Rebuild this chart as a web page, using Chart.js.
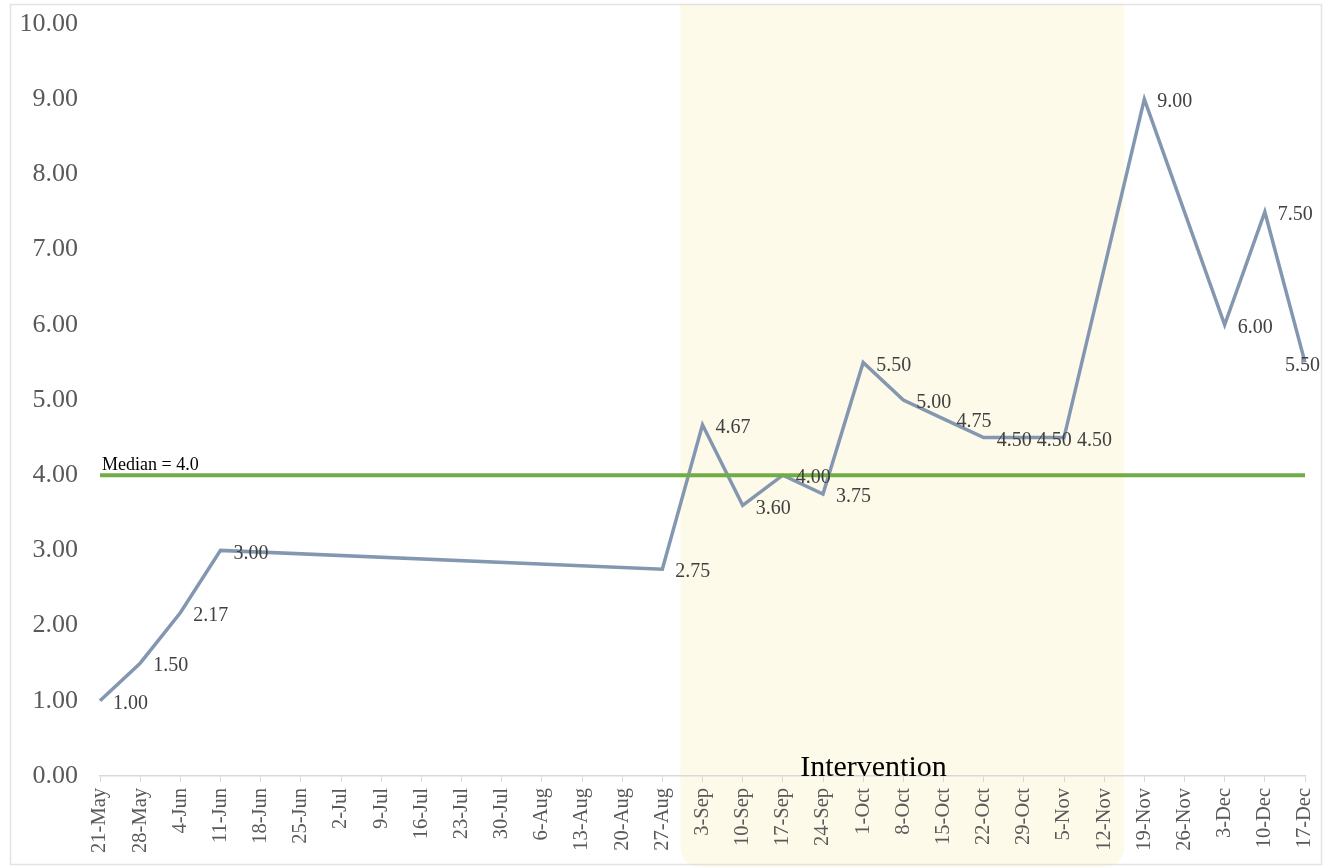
<!DOCTYPE html>
<html>
<head>
<meta charset="utf-8">
<title>Weekly score with intervention period</title>
<script src="https://cdn.jsdelivr.net/npm/chart.js@4.4.1/dist/chart.umd.min.js"></script>
<style>
  html, body { margin: 0; padding: 0; background: #ffffff; }
  canvas { display: block; }
</style>
</head>
<body>
<canvas id="chart" width="1332" height="867"></canvas>
<script>
// Weekly categories (x axis)
const categories = [
  '21-May', '28-May', '4-Jun', '11-Jun', '18-Jun', '25-Jun', '2-Jul', '9-Jul',
  '16-Jul', '23-Jul', '30-Jul', '6-Aug', '13-Aug', '20-Aug', '27-Aug', '3-Sep',
  '10-Sep', '17-Sep', '24-Sep', '1-Oct', '8-Oct', '15-Oct', '22-Oct', '29-Oct',
  '5-Nov', '12-Nov', '19-Nov', '26-Nov', '3-Dec', '10-Dec', '17-Dec'
];

// Weekly score; null = no measurement that week
const scores = [
  1.00, 1.50, 2.17, 3.00, null, null, null, null,
  null, null, null, null, null, null, 2.75, 4.67,
  3.60, 4.00, 3.75, 5.50, 5.00, 4.75, 4.50, 4.50,
  4.50, null, 9.00, null, 6.00, 7.50, 5.50
];

// Reference median
const medianValue = 4.0;
const medianSeries = categories.map(() => medianValue);

// Y axis range and step
const yMin = 0;
const yMax = 10;
const yStep = 1;

// Intervention period (first and last week)
const interventionStart = '3-Sep';
const interventionEnd = '12-Nov';
const interventionLabel = 'Intervention';

const SERIF = "'Liberation Serif', 'Times New Roman', serif";

// Background, shaded intervention band and outer frame
const backdropPlugin = {
  id: 'backdrop',
  beforeDraw(chart) {
    const { ctx, width, height, scales } = chart;
    const x = scales.x;
    ctx.save();
    ctx.fillStyle = '#ffffff';
    ctx.fillRect(0, 0, width, height);

    const step = x.getPixelForValue(1) - x.getPixelForValue(0);
    const i0 = categories.indexOf(interventionStart);
    const i1 = categories.indexOf(interventionEnd);
    const left = x.getPixelForValue(i0) - step * 0.55;
    const right = x.getPixelForValue(i1) + step * 0.5;
    const top = 4;
    const bottom = height;
    const r = 22;
    ctx.fillStyle = '#fefaea';
    ctx.beginPath();
    ctx.moveTo(left, top);
    ctx.lineTo(right, top);
    ctx.lineTo(right, bottom - r);
    ctx.quadraticCurveTo(right, bottom, right - r, bottom);
    ctx.lineTo(left + r, bottom);
    ctx.quadraticCurveTo(left, bottom, left, bottom - r);
    ctx.closePath();
    ctx.fill();

    ctx.strokeStyle = 'rgba(200,200,200,0.5)';
    ctx.lineWidth = 1.5;
    ctx.strokeRect(10.5, 4.5, width - 21, height - 7);
    ctx.restore();

    chart.$band = { left, right };
  }
};

// Value labels, median caption and intervention caption
const annotatePlugin = {
  id: 'annotate',
  afterDatasetsDraw(chart) {
    const { ctx, chartArea, scales, width } = chart;
    ctx.save();

    // median caption
    const yMed = scales.y.getPixelForValue(medianValue);
    ctx.font = '18px ' + SERIF;
    ctx.fillStyle = '#000000';
    ctx.textAlign = 'left';
    ctx.textBaseline = 'middle';
    ctx.fillText('Median = ' + medianValue.toFixed(1), chartArea.left + 2, yMed - 10);

    // point value labels
    const meta = chart.getDatasetMeta(1);
    ctx.font = '20px ' + SERIF;
    ctx.fillStyle = '#404040';
    meta.data.forEach((pt, i) => {
      const v = scores[i];
      if (v === null || v === undefined) return;
      const txt = v.toFixed(2);
      const w = ctx.measureText(txt).width;
      let lx = pt.x + 13;
      const maxRight = width - 12;
      if (lx + w > maxRight) lx = maxRight - w;
      ctx.fillText(txt, lx, pt.y + 3);
    });

    // intervention caption
    if (chart.$band) {
      const { left, right } = chart.$band;
      ctx.font = '30px ' + SERIF;
      ctx.fillStyle = '#000000';
      ctx.textAlign = 'center';
      ctx.textBaseline = 'alphabetic';
      ctx.fillText(interventionLabel, left + (right - left) * 0.435, chartArea.bottom);
    }
    ctx.restore();
  }
};

new Chart(document.getElementById('chart'), {
  type: 'line',
  data: {
    labels: categories,
    datasets: [
      {
        label: 'Median',
        data: medianSeries,
        borderColor: '#70ad47',
        borderWidth: 4,
        pointRadius: 0,
        order: 0
      },
      {
        label: 'Score',
        data: scores,
        borderColor: '#8497b0',
        borderWidth: 3.5,
        pointRadius: 0,
        spanGaps: true,
        tension: 0,
        order: 1
      }
    ]
  },
  options: {
    responsive: false,
    animation: false,
    layout: { padding: { left: 0, right: 27, top: 24, bottom: 0 } },
    plugins: {
      legend: { display: false },
      tooltip: { enabled: false }
    },
    scales: {
      x: {
        type: 'category',
        offset: false,
        grid: {
          display: true,
          drawOnChartArea: false,
          drawTicks: true,
          tickLength: 6,
          color: '#d9d9d9'
        },
        border: { display: true, color: '#d9d9d9', width: 1.5 },
        ticks: {
          autoSkip: false,
          minRotation: 90,
          maxRotation: 90,
          padding: 6,
          color: '#595959',
          font: { family: SERIF, size: 20.5 }
        },
        afterFit(scale) {
          scale.height = 91;
          scale.paddingLeft = 0;
          scale.paddingRight = 0;
        }
      },
      y: {
        min: yMin,
        max: yMax,
        grid: { display: false },
        border: { display: false },
        ticks: {
          stepSize: yStep,
          padding: 14,
          color: '#595959',
          font: { family: SERIF, size: 26 },
          callback: (v) => Number(v).toFixed(2)
        },
        afterFit(scale) {
          scale.width = 100;
          scale.paddingTop = 0;
          scale.paddingBottom = 0;
        }
      }
    }
  },
  plugins: [backdropPlugin, annotatePlugin]
});
</script>
</body>
</html>
